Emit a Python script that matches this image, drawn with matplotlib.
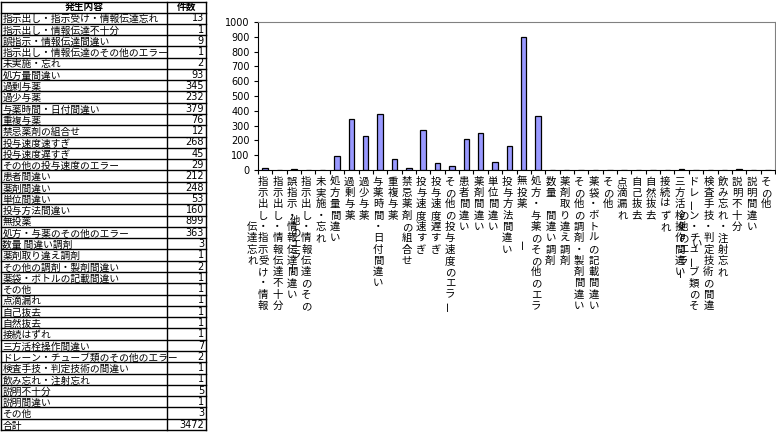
import numpy as np
import matplotlib
matplotlib.use("Agg")
import matplotlib.pyplot as plt

plt.rcParams['font.family'] = ['Noto Sans CJK JP', 'DejaVu Sans']

# 発生内容ごとの件数
items = [
    "指示出し・指示受け・情報伝達忘れ", "指示出し・情報伝達不十分", "誤指示・情報伝達間違い",
    "指示出し・情報伝達のその他のエラー", "未実施・忘れ", "処方量間違い", "過剰与薬", "過少与薬",
    "与薬時間・日付間違い", "重複与薬", "禁忌薬剤の組合せ", "投与速度速すぎ", "投与速度遅すぎ",
    "その他の投与速度のエラー", "患者間違い", "薬剤間違い", "単位間違い", "投与方法間違い",
    "無投薬", "処方・与薬のその他のエラー", "数量 間違い調剤", "薬剤取り違え調剤",
    "その他の調剤・製剤間違い", "薬袋・ボトルの記載間違い", "その他", "点滴漏れ", "自己抜去",
    "自然抜去", "接続はずれ", "三方活栓操作間違い", "ドレーン・チューブ類のその他のエラー",
    "検査手技・判定技術の間違い", "飲み忘れ・注射忘れ", "説明不十分", "説明間違い", "その他",
]
counts = [13, 1, 9, 1, 2, 93, 345, 232, 379, 76, 12, 268, 45, 29, 212, 248, 53, 160,
          899, 363, 3, 1, 2, 1, 1, 1, 1, 1, 1, 7, 2, 1, 1, 5, 1, 3]
header = ["発生内容", "件数"]
total_label = "合計"

fig = plt.figure(figsize=(7.76, 4.32), dpi=100)
W, H = 776, 432

# ---- 表 ----
tab = fig.add_axes([0, 0, 1, 1])
tab.set_xlim(0, W)
tab.set_ylim(H, 0)
tab.axis('off')

x0, x1, x2 = 1, 167, 206
top, hdr_bot, bottom = 1.5, 12.5, 430
nrows = len(items) + 1
rh = (bottom - hdr_bot) / nrows
ys = [top, hdr_bot] + [hdr_bot + rh * (k + 1) for k in range(nrows)]
for y in ys:
    tab.plot([x0, x2], [y, y], color='black', lw=1)
for x in (x0, x1, x2):
    tab.plot([x, x], [top, bottom], color='black', lw=1)

tab.text((x0 + x1) / 2, hdr_bot - 0.5, header[0], ha='center', va='bottom',
         fontsize=7, fontweight='bold')
tab.text((x1 + x2) / 2, hdr_bot - 0.5, header[1], ha='center', va='bottom',
         fontsize=7, fontweight='bold')

rows = list(zip(items, counts)) + [(total_label, sum(counts))]
for k, (name, c) in enumerate(rows):
    yb = hdr_bot + rh * (k + 1)
    tab.text(x0 + 1.5, yb + 0.5, name, ha='left', va='bottom', fontsize=7)
    tab.text(x2 - 2, yb - 0.5, str(c), ha='right', va='bottom', fontsize=7,
             family='DejaVu Sans')

# ---- グラフ ----
L, T, R, B = 258, 22, 775, 170
ax = fig.add_axes([L / W, 1 - B / H, (R - L) / W, (B - T) / H])
pos = np.arange(len(items))
ax.bar(pos, counts, width=0.38, color='#9999ff', edgecolor='black', linewidth=0.9)
ax.set_xlim(-0.5, len(items) - 0.5)
ax.set_ylim(0, 1000)
ax.set_yticks(np.arange(0, 1001, 100))
ax.tick_params(axis='y', direction='out', length=3, labelsize=7, pad=3)
for t in ax.get_yticklabels():
    t.set_family('DejaVu Sans')
ax.set_xticks(np.arange(-0.5, len(items), 1))
ax.set_xticklabels([])
ax.tick_params(axis='x', direction='out', length=3)
for s in ('top', 'right'):
    ax.spines[s].set_color('#808080')
for s in ('left', 'bottom'):
    ax.spines[s].set_color('black')

# 縦書きラベル
per_col = 12
row_h = 11.3
y_first = 11.7
for i, name in enumerate(items):
    chars = list(name)
    cols = [chars[:per_col], chars[per_col:]]
    for ci, col in enumerate(cols):
        if not col:
            continue
        dx = -2 - 11 * ci
        start = 0 if ci == 0 else (per_col - len(col)) / 2
        for r, ch in enumerate(col):
            if ch == ' ':
                continue
            rot = 90 if ch == 'ー' else 0
            ax.annotate(ch, xy=(i, 0), xycoords=('data', 'axes fraction'),
                        xytext=(dx, -(y_first + (start + r) * row_h)),
                        textcoords='offset pixels', ha='center', va='center',
                        fontsize=7.5, rotation=rot, annotation_clip=False)

fig.savefig('out.png', dpi=100)
